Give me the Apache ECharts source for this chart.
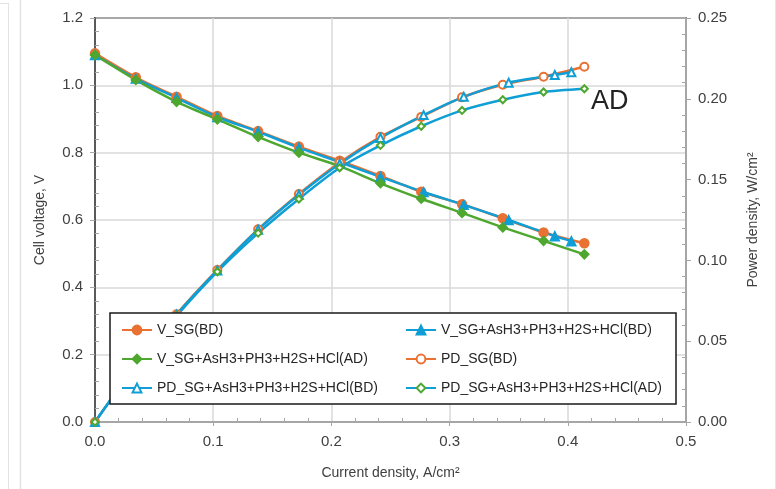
<!DOCTYPE html>
<html><head><meta charset="utf-8">
<script src="https://cdn.jsdelivr.net/npm/echarts@6/dist/echarts.min.js"></script>
<style>html,body{margin:0;padding:0;background:#fff}#c{width:776px;height:489px}</style>
</head><body><div id="c"></div>
<script>
// Current density (A/cm2)
const xSG_BD  = [0, 0.0345, 0.069, 0.1035, 0.138, 0.1725, 0.207, 0.2415, 0.276, 0.3105, 0.345, 0.3795, 0.414];
const xMix_BD = [0, 0.0345, 0.069, 0.1035, 0.138, 0.1725, 0.207, 0.2415, 0.278, 0.312, 0.350, 0.389, 0.403];
const xMix_AD = [0, 0.0345, 0.069, 0.1035, 0.138, 0.1725, 0.207, 0.2415, 0.276, 0.3105, 0.345, 0.3795, 0.414];
// Cell voltage (V)
const vSG_BD  = [1.095, 1.024, 0.966, 0.909, 0.864, 0.818, 0.776, 0.731, 0.684, 0.647, 0.605, 0.563, 0.531];
const vMix_BD = [1.090, 1.020, 0.963, 0.906, 0.862, 0.815, 0.772, 0.728, 0.683, 0.645, 0.600, 0.552, 0.537];
const vMix_AD = [1.090, 1.016, 0.951, 0.899, 0.847, 0.800, 0.760, 0.709, 0.663, 0.621, 0.578, 0.538, 0.498];
// Power density (W/cm2)
const pSG_BD  = [0, 0.0353, 0.0667, 0.0941, 0.1192, 0.1411, 0.1606, 0.1765, 0.1888, 0.2009, 0.2087, 0.2137, 0.2198];
const pMix_BD = [0, 0.0352, 0.0664, 0.0938, 0.1190, 0.1406, 0.1598, 0.1758, 0.1899, 0.2012, 0.2100, 0.2147, 0.2164];
const pMix_AD = [0, 0.0351, 0.0656, 0.0930, 0.1169, 0.1380, 0.1573, 0.1712, 0.1830, 0.1928, 0.1994, 0.2042, 0.2062];

const names = [
  'V_SG(BD)',
  'V_SG+AsH3+PH3+H2S+HCl(BD)',
  'V_SG+AsH3+PH3+H2S+HCl(AD)',
  'PD_SG(BD)',
  'PD_SG+AsH3+PH3+H2S+HCl(BD)',
  'PD_SG+AsH3+PH3+H2S+HCl(AD)'
];
const xTicks = [0, 0.1, 0.2, 0.3, 0.4, 0.5];
const annotation = 'AD';

const ORANGE = '#E97132', BLUE = '#0F9ED5', GREEN = '#4EA72E';
const FONT = 'Liberation Sans';
const zip = (xs, ys) => xs.map((x, i) => [x, ys[i]]);

function mk(name, xs, ys, axis, lineColor, markColor, symbol, size) {
  return {
    name, type: 'line', yAxisIndex: axis, data: zip(xs, ys),
    smooth: 0.25, symbol, symbolSize: size, showSymbol: true,
    lineStyle: { color: lineColor, width: 2.5 },
    itemStyle: { color: markColor, borderColor: markColor, borderWidth: 1.5 },
    emphasis: { disabled: true }, animation: false
  };
}

const series = [
  mk(names[0], xSG_BD, vSG_BD, 0, ORANGE, ORANGE, 'circle', 9),
  mk(names[1], xMix_BD, vMix_BD, 0, BLUE, BLUE, 'triangle', 9),
  mk(names[2], xMix_AD, vMix_AD, 0, GREEN, GREEN, 'diamond', 9),
  mk(names[3], xSG_BD, pSG_BD, 1, ORANGE, ORANGE, 'emptyCircle', 8),
  mk(names[4], xMix_BD, pMix_BD, 1, BLUE, BLUE, 'emptyTriangle', 8),
  mk(names[5], xMix_AD, pMix_AD, 1, BLUE, GREEN, 'emptyDiamond', 7)
];

const legendCommon = {
  orient: 'vertical', itemWidth: 30, itemHeight: 11, itemGap: 15, z: 20,
  textStyle: { fontFamily: FONT, fontSize: 14, color: '#262626' },
  selectedMode: false
};

const chart = echarts.init(document.getElementById('c'), null, { renderer: 'canvas' });
chart.setOption({
  animation: false,
  backgroundColor: '#fff',
  grid: { left: 95, right: 90, top: 18, bottom: 67, show: true, borderColor: '#1a1a1a', borderWidth: 2 },
  xAxis: {
    type: 'value', min: xTicks[0], max: xTicks[xTicks.length - 1], interval: 0.1,
    name: 'Current density, A/cm²', nameLocation: 'middle', nameGap: 44,
    nameTextStyle: { fontFamily: FONT, fontSize: 14, color: '#404040' },
    axisLine: { show: true, lineStyle: { color: '#a6a6a6', width: 2 } },
    axisTick: { show: true, inside: false, length: 4, lineStyle: { color: '#a6a6a6' } },
    minorTick: { show: true, splitNumber: 5, length: -4, lineStyle: { color: '#a6a6a6' } },
    splitLine: { show: true, lineStyle: { color: '#d9d9d9', width: 1.5 } },
    axisLabel: { fontFamily: FONT, fontSize: 15, color: '#404040', margin: 12, formatter: v => v.toFixed(1) }
  },
  yAxis: [{
    type: 'value', min: 0, max: 1.2, interval: 0.2, position: 'left',
    name: 'Cell voltage, V', nameLocation: 'middle', nameGap: 48,
    nameTextStyle: { fontFamily: FONT, fontSize: 14, color: '#404040' },
    axisLine: { show: true, lineStyle: { color: '#595959', width: 2 } },
    axisTick: { show: true, inside: false, length: 5, lineStyle: { color: '#a6a6a6' } },
    minorTick: { show: true, splitNumber: 5, length: -4, lineStyle: { color: '#a6a6a6' } },
    splitLine: { show: true, lineStyle: { color: '#d9d9d9', width: 1.5 } },
    axisLabel: { fontFamily: FONT, fontSize: 15, color: '#404040', margin: 12, formatter: v => v.toFixed(1) }
  }, {
    type: 'value', min: 0, max: 0.25, interval: 0.05, position: 'right',
    name: 'Power density, W/cm²', nameLocation: 'middle', nameGap: 60, nameRotate: 90,
    nameTextStyle: { fontFamily: FONT, fontSize: 14, color: '#404040' },
    axisLine: { show: true, lineStyle: { color: '#a6a6a6', width: 2 } },
    axisTick: { show: true, inside: false, length: 5, lineStyle: { color: '#a6a6a6' } },
    minorTick: { show: true, splitNumber: 5, length: -4, lineStyle: { color: '#a6a6a6' } },
    splitLine: { show: false },
    axisLabel: { fontFamily: FONT, fontSize: 15, color: '#404040', margin: 12, formatter: v => v.toFixed(2) }
  }],
  legend: [
    Object.assign({}, legendCommon, { left: 116, top: 318, data: [names[0], names[2], names[4]] }),
    Object.assign({}, legendCommon, { left: 400, top: 318, data: [names[1], names[3], names[5]] })
  ],
  graphic: [
    { type: 'rect', z: 10, shape: { x: 110, y: 313, width: 566, height: 91 },
      style: { fill: '#fff', stroke: '#1a1a1a', lineWidth: 1.5 } },
    { type: 'text', z: 10, left: 591, top: 88,
      style: { text: annotation, fontFamily: FONT, fontSize: 27, fill: '#222' } },
    { type: 'line', z: 1, shape: { x1: 8.5, y1: 3, x2: 8.5, y2: 489 }, style: { stroke: '#e3e3e3', lineWidth: 1 } },
    { type: 'line', z: 1, shape: { x1: 0, y1: 3.5, x2: 8.5, y2: 3.5 }, style: { stroke: '#e3e3e3', lineWidth: 1 } },
    { type: 'line', z: 1, shape: { x1: 20.5, y1: 0, x2: 20.5, y2: 489 }, style: { stroke: '#e3e3e3', lineWidth: 1.5 } },
    { type: 'line', z: 1, shape: { x1: 775.5, y1: 0, x2: 775.5, y2: 489 }, style: { stroke: '#e6e6e6', lineWidth: 1 } }
  ],
  series
});
</script>
</body></html>
